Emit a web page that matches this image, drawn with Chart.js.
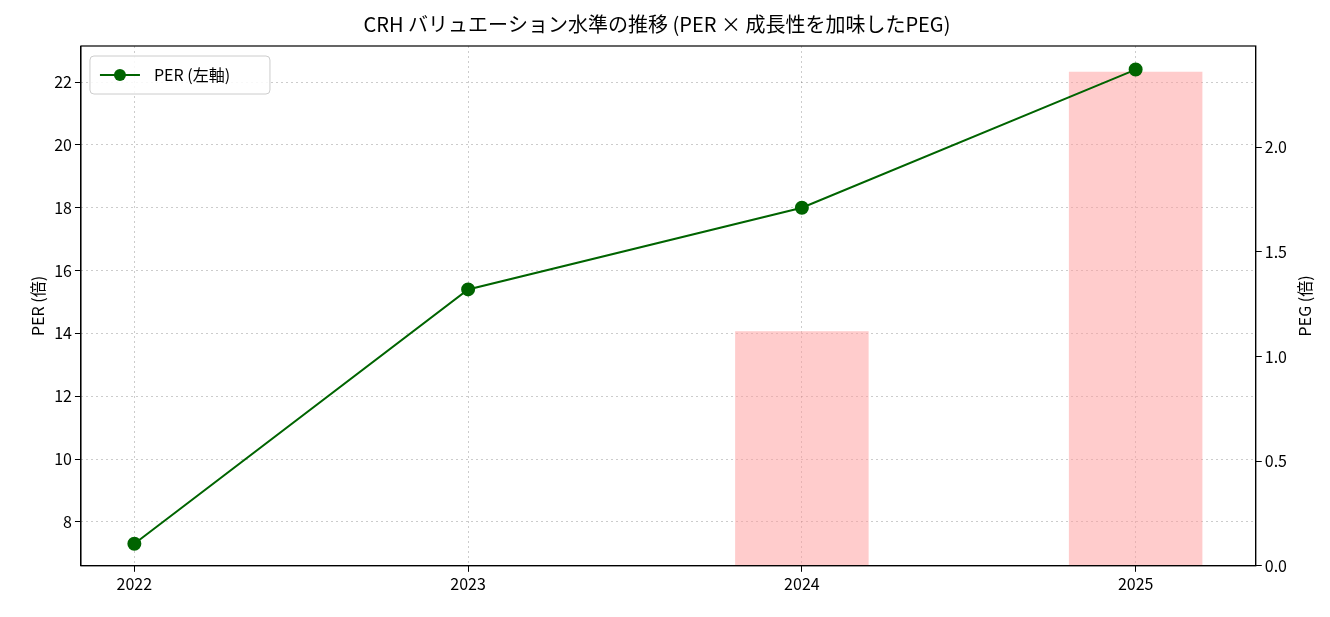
<!DOCTYPE html>
<html>
<head>
<meta charset="utf-8">
<script src="https://cdn.jsdelivr.net/npm/chart.js@4"></script>
<style>
  html, body { margin: 0; padding: 0; background: #fff; }
  #wrap { width: 1330px; height: 617px; }
</style>
</head>
<body>
<div id="wrap"><canvas id="c"></canvas></div>
<script>
const years = [2022, 2023, 2024, 2025];
const perValues = [7.3, 15.4, 18.0, 22.4];
const pegValues = [null, null, 1.12, 2.36];

const FONT = '"Noto Sans CJK JP", "Noto Sans", sans-serif';

// matplotlib style box + legend inside plot area + right axis title
const boxAndLegend = {
    id: 'boxAndLegend',
    afterDraw(chart) {
        const ctx = chart.ctx;
        const a = chart.chartArea;
        ctx.save();
        ctx.strokeStyle = '#000';
        ctx.lineWidth = 1.2;
        ctx.strokeRect(a.left, a.top, a.right - a.left, a.bottom - a.top);

        const x = a.left + 9, y = a.top + 10, w = 180, h = 38;
        ctx.fillStyle = 'rgba(255,255,255,0.85)';
        ctx.strokeStyle = '#ccc';
        ctx.lineWidth = 1;
        ctx.beginPath();
        ctx.roundRect(x, y, w, h, 4);
        ctx.fill();
        ctx.stroke();
        ctx.strokeStyle = '#006400';
        ctx.lineWidth = 2;
        ctx.beginPath();
        ctx.moveTo(x + 10, y + h / 2);
        ctx.lineTo(x + 50, y + h / 2);
        ctx.stroke();
        ctx.fillStyle = '#006400';
        ctx.beginPath();
        ctx.arc(x + 30, y + h / 2, 6, 0, Math.PI * 2);
        ctx.fill();
        ctx.fillStyle = '#000';
        ctx.font = '16px ' + FONT;
        ctx.textBaseline = 'middle';
        ctx.fillText('PER (左軸)', x + 64, y + h / 2);

        ctx.translate(1305, (a.top + a.bottom) / 2);
        ctx.rotate(-Math.PI / 2);
        ctx.textAlign = 'center';
        ctx.fillText('PEG (倍)', 0, 0);
        ctx.restore();
    }
};

new Chart(document.getElementById('c'), {
    data: {
        datasets: [
            {
                type: 'line',
                label: 'PER (左軸)',
                data: years.map((y, i) => ({x: y, y: perValues[i]})),
                borderColor: '#006400',
                backgroundColor: '#006400',
                borderWidth: 2,
                pointRadius: 6,
                pointHoverRadius: 6,
                yAxisID: 'y',
                order: 0
            },
            {
                type: 'bar',
                label: 'PEG (右軸)',
                data: years.map((y, i) => ({x: y, y: pegValues[i]})),
                backgroundColor: 'rgba(255,153,153,0.5)',
                categoryPercentage: 1,
                barPercentage: 0.4,
                yAxisID: 'y2',
                order: 1
            }
        ]
    },
    options: {
        responsive: true,
        maintainAspectRatio: false,
        animation: false,
        layout: { padding: { left: 24, right: 40, top: 4, bottom: 20 } },
        plugins: {
            legend: { display: false },
            tooltip: { enabled: false },
            title: {
                display: true,
                text: 'CRH バリュエーション水準の推移 (PER × 成長性を加味したPEG)',
                color: '#000',
                font: { size: 20, family: FONT, weight: 'normal' },
                padding: { top: 8, bottom: 10 }
            }
        },
        scales: {
            x: {
                type: 'linear',
                min: 2021.84,
                max: 2025.36,
                offset: false,
                afterBuildTicks: s => { s.ticks = years.map(v => ({value: v})); },
                ticks: { color: '#000', font: { size: 16, family: FONT }, callback: v => String(v) },
                grid: { offset: false, color: 'rgba(0,0,0,0.2)', tickColor: '#000', tickLength: 6 },
                border: { display: true, color: '#000', dash: [2, 3] }
            },
            y: {
                position: 'left',
                min: 6.6,
                max: 23.15,
                afterBuildTicks: s => { s.ticks = [8, 10, 12, 14, 16, 18, 20, 22].map(v => ({value: v})); },
                ticks: { color: '#000', font: { size: 16, family: FONT } },
                grid: { color: 'rgba(0,0,0,0.2)', tickColor: '#000', tickLength: 6 },
                border: { display: true, color: '#000', dash: [2, 3] },
                title: { display: true, text: 'PER (倍)', color: '#000', font: { size: 16, family: FONT } }
            },
            y2: {
                position: 'right',
                min: 0,
                max: 2.483,
                afterBuildTicks: s => { s.ticks = [0, 0.5, 1, 1.5, 2].map(v => ({value: v})); },
                ticks: { color: '#000', font: { size: 16, family: FONT }, callback: v => v.toFixed(1) },
                grid: { drawOnChartArea: false, tickColor: '#000', tickLength: 6 },
                border: { display: true, color: '#000' }
            }
        }
    },
    plugins: [boxAndLegend]
});
</script>
</body>
</html>
